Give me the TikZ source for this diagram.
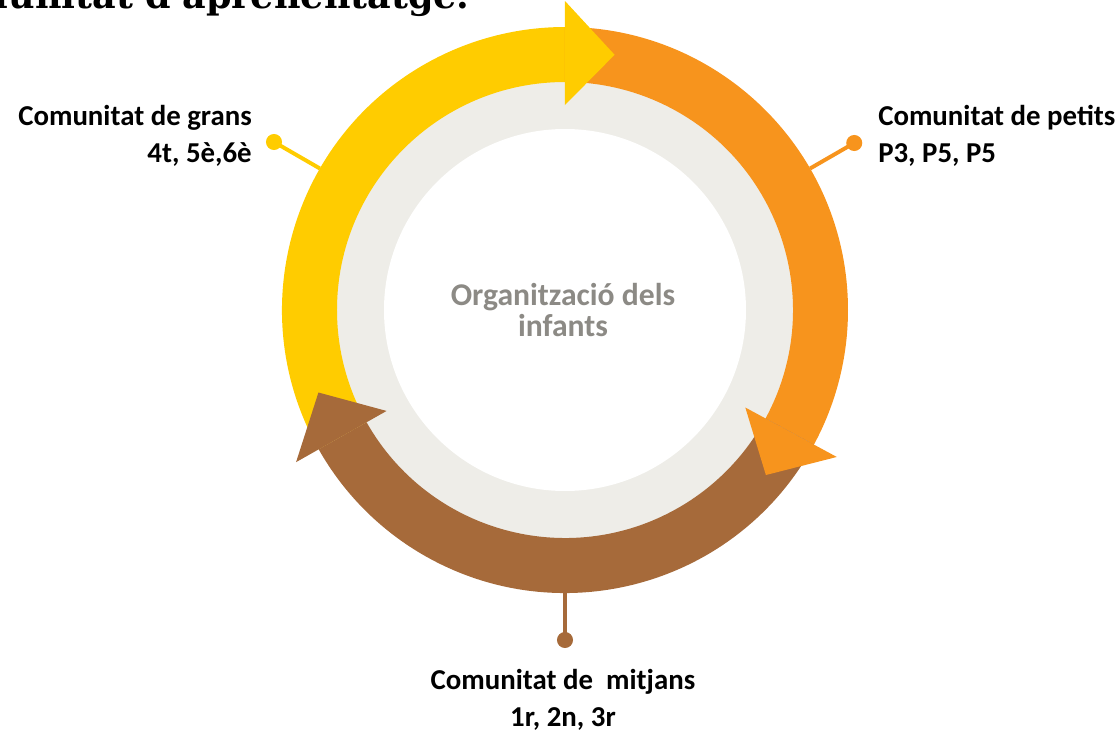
\documentclass[tikz,border=0pt]{standalone}
\usepackage{fontspec}
\setmainfont{Carlito}
\newfontfamily\titlefont{DejaVu Serif}
\usetikzlibrary{calc}

\definecolor{ringyellow}{HTML}{FFCC00}
\definecolor{ringorange}{HTML}{F7941D}
\definecolor{ringbrown}{HTML}{A66A3A}
\definecolor{ringgrey}{HTML}{EEEDE8}
\definecolor{centregrey}{HTML}{8C8A85}

\tikzset{
	leader/.style={draw=#1, line width=2.8pt},
	leaderdot/.style={circle, fill=#1, inner sep=0pt, minimum size=11.4pt},
	commlabel/.style={font=\fontsize{20.5}{26}\selectfont\bfseries, text=black, inner sep=0pt}
}

\begin{document}
\begin{tikzpicture}[x=0.025cm, y=0.025cm]
		\useasboundingbox (-565,310) rectangle (555,-422);
		
		% title, cut by the top edge
		\node[anchor=base east, inner sep=0pt, font=\titlefont\fontsize{26}{30}\selectfont\bfseries] (title) at (-95,302) {La comunitat d'aprenentatge.};
		
		\fill[ringgrey] (0,0) circle[radius=230];
		\fill[white] (0,0) circle[radius=181];
		
		% ring segments
		\foreach \col/\a/\b in {ringyellow/209.5/90, ringorange/90/-28.4, ringbrown/-28.4/-150.5}
			\fill[\col] (\a:283) arc[start angle=\a, end angle=\b, radius=283] -- (\b:228) arc[start angle=\b, end angle=\a, radius=228] -- cycle;
		% arrow heads
		\foreach \col/\b in {ringyellow/90, ringorange/-28.4, ringbrown/-150.5}
			\fill[\col] (\b:205) -- (\b:309) -- ({\b-11}:260) -- cycle;
		
		\node[font=\fontsize{22.5}{22.5}\selectfont\bfseries, text=centregrey, align=center] (centre) at (-2,0) {Organització dels\\infants};
		
		\coordinate (grans-end) at (150:283);
		\node[leaderdot=ringyellow] (grans-dot) at (150:336) {};
		\draw[leader=ringyellow] (grans-end) -- (grans-dot.center);
		\node[commlabel, anchor=east, align=right] (grans) at (-313,174) {Comunitat de grans\\4t, 5è,6è};
		
		\coordinate (petits-end) at (30:283);
		\node[leaderdot=ringorange] (petits-dot) at (30:334) {};
		\draw[leader=ringorange] (petits-end) -- (petits-dot.center);
		\node[commlabel, anchor=west, align=left] (petits) at (313,174) {Comunitat de petits\\P3, P5, P5};
		
		\coordinate (mitjans-end) at (270:283);
		\node[leaderdot=ringbrown] (mitjans-dot) at (270:330) {};
		\draw[leader=ringbrown] (mitjans-end) -- (mitjans-dot.center);
		\node[commlabel, align=center] (mitjans) at (-2,-390) {Comunitat de~ mitjans\\1r, 2n, 3r};
	\end{tikzpicture}
\end{document}
